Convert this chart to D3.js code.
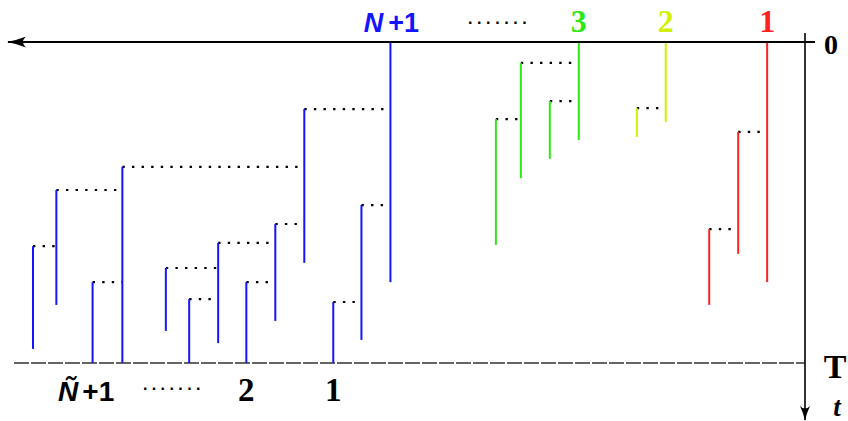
<!DOCTYPE html>
<html>
<head>
<meta charset="utf-8">
<script src="https://cdn.jsdelivr.net/npm/d3@7"></script>
<style>
  body { margin: 0; background: #fff; }
  svg { display: block; }
</style>
</head>
<body>
<div class="tree-chart"></div>
<script>

// Families (lineages) drawn from the top axis, right to left
var familyNames = ["1", "2", "3", "N+1"];
var familyColors = ["#ff2020", "#d4f000", "#2ee812", "#1414ff"];

// Each branch: position, birth time, death time, parent index (-1 = root)
var redX      = [95.3, 91.7, 88.1];
var redBirth  = [0, 0.280, 0.583];
var redDeath  = [0.748, 0.660, 0.819];
var redParent = [-1, 0, 1];

var yellowX      = [82.7, 79.1];
var yellowBirth  = [0, 0.206];
var yellowDeath  = [0.249, 0.296];
var yellowParent = [-1, 0];

var greenX      = [71.9, 68.3, 64.7, 61.6];
var greenBirth  = [0, 0.184, 0.065, 0.240];
var greenDeath  = [0.305, 0.364, 0.424, 0.632];
var greenParent = [-1, 0, 0, 2];

var blueX      = [48.5, 44.9, 41.4, 37.8, 34.2, 30.6, 27.1, 23.5, 20.6, 15.2, 11.5, 7.0, 4.1];
var blueBirth  = [0, 0.508, 0.810, 0.209, 0.567, 0.748, 0.626, 0.801, 0.704, 0.389, 0.748, 0.461, 0.636];
var blueDeath  = [0.748, 0.928, 1, 0.688, 0.869, 1, 0.938, 1, 0.900, 1, 1, 0.819, 0.956];
var blueParent = [-1, 0, 1, 0, 3, 4, 4, 6, 6, 3, 9, 9, 11];

// Labels of survivors at time T
var bottomLabels = ["Ñ+1", ".......", "2", "1"];
var bottomLabelX = [10.7, 21.6, 30.6, 41.4];

var w = 848;
var h = 421;

var x = d3.scaleLinear().domain([0, 100]).range([0, 805]);
var t = d3.scaleLinear().domain([0, 1]).range([42, 363]);

var svg = d3.select(".tree-chart").append("svg")
  .attr("width", w)
  .attr("height", h);

var defs = svg.append("defs");

// Arrow heads for the two axes
defs.append("marker")
  .attr("id", "arrow")
  .attr("viewBox", "0 0 19 11")
  .attr("refX", 18)
  .attr("refY", 5.5)
  .attr("markerWidth", 19)
  .attr("markerHeight", 11)
  .attr("markerUnits", "userSpaceOnUse")
  .attr("orient", "auto")
  .append("path")
  .attr("d", "M0,0 Q10,4 19,5.5 Q10,7 0,11 Q6,5.5 0,0 Z")
  .attr("fill", "#000");

defs.append("marker")
  .attr("id", "arrowSmall")
  .attr("viewBox", "0 0 15 10")
  .attr("refX", 14)
  .attr("refY", 5)
  .attr("markerWidth", 15)
  .attr("markerHeight", 10)
  .attr("markerUnits", "userSpaceOnUse")
  .attr("orient", "auto")
  .append("path")
  .attr("d", "M0,0 Q8,3.8 15,5 Q8,6.2 0,10 Q5,5 0,0 Z")
  .attr("fill", "#000");

function Family(xs, births, deaths, parents, color) {
  var data = xs.map(function(d, i) {
    return { x: d, t0: births[i], t1: deaths[i], p: parents[i] };
  });

  var g = svg.append("g");

  // Dotted link from a branch to its parent at birth time
  g.selectAll("line.link")
    .data(data.filter(function(d) { return d.p >= 0; }))
    .enter()
    .append("line")
    .attr("class", "link")
    .attr("x1", function(d) { return x(d.x); })
    .attr("x2", function(d) { return x(xs[d.p]); })
    .attr("y1", function(d) { return t(d.t0); })
    .attr("y2", function(d) { return t(d.t0); })
    .attr("stroke", "#000")
    .attr("stroke-width", 2.2)
    .attr("stroke-dasharray", "2.4,7.2");

  // Life span of each branch
  g.selectAll("line.branch")
    .data(data)
    .enter()
    .append("line")
    .attr("class", "branch")
    .attr("x1", function(d) { return x(d.x); })
    .attr("x2", function(d) { return x(d.x); })
    .attr("y1", function(d) { return t(d.t0); })
    .attr("y2", function(d) { return t(d.t1); })
    .attr("stroke", color)
    .attr("stroke-width", 2);

  return data[0].x;
}

// Dashed line at time T
svg.append("line")
  .attr("x1", 14).attr("x2", x(100))
  .attr("y1", t(1)).attr("y2", t(1))
  .attr("stroke", "#333")
  .attr("stroke-width", 1.6)
  .attr("stroke-dasharray", "15,2");

var rootX = [
  Family(redX, redBirth, redDeath, redParent, familyColors[0]),
  Family(yellowX, yellowBirth, yellowDeath, yellowParent, familyColors[1]),
  Family(greenX, greenBirth, greenDeath, greenParent, familyColors[2]),
  Family(blueX, blueBirth, blueDeath, blueParent, familyColors[3])
];

// Top axis (time 0), pointing left
svg.append("line")
  .attr("x1", 815).attr("x2", 8)
  .attr("y1", t(0)).attr("y2", t(0))
  .attr("stroke", "#000")
  .attr("stroke-width", 2)
  .attr("marker-end", "url(#arrow)");

// Time axis pointing down
svg.append("line")
  .attr("x1", x(100)).attr("x2", x(100))
  .attr("y1", 33).attr("y2", 420)
  .attr("stroke", "#000")
  .attr("stroke-width", 1.6)
  .attr("marker-end", "url(#arrowSmall)");

// Family labels above the top axis
var labels = svg.append("g");

rootX.forEach(function(rx, i) {
  if (familyNames[i] === "N+1") {
    var txt = labels.append("text")
      .attr("x", x(rx) + 1)
      .attr("y", 32)
      .attr("text-anchor", "middle")
      .attr("fill", familyColors[i])
      .style("font-family", "Liberation Sans, Arial, sans-serif")
      .style("font-weight", "bold")
      .style("font-size", "27px");
    txt.append("tspan").style("font-style", "italic").text("N");
    txt.append("tspan").attr("dx", 5).text("+1");
  } else {
    labels.append("text")
      .attr("x", x(rx))
      .attr("y", 32)
      .attr("text-anchor", "middle")
      .attr("fill", familyColors[i])
      .style("font-family", "Liberation Serif, serif")
      .style("font-weight", "bold")
      .style("font-size", "32px")
      .text(familyNames[i]);
  }
});

labels.append("text")
  .attr("x", 468)
  .attr("y", 24)
  .style("font-family", "Liberation Sans, sans-serif")
  .style("font-weight", "bold")
  .style("font-size", "16px")
  .style("letter-spacing", "4.6px")
  .text(".......");

// Survivor labels below the dashed line
bottomLabels.forEach(function(lab, i) {
  var el = labels.append("text")
    .attr("x", x(bottomLabelX[i]))
    .attr("y", 401)
    .attr("text-anchor", "middle")
    .attr("fill", "#000");
  if (lab === "Ñ+1") {
    el.style("font-family", "Liberation Sans, Arial, sans-serif")
      .style("font-weight", "bold")
      .style("font-size", "28px");
    el.append("tspan").style("font-style", "italic").text("Ñ");
    el.append("tspan").attr("dx", 4).text("+1");
  } else if (lab === ".......") {
    el.attr("y", 390)
      .style("font-family", "Liberation Sans, sans-serif")
      .style("font-weight", "bold")
      .style("font-size", "16px")
      .style("letter-spacing", "4.4px")
      .text(lab);
  } else {
    el.style("font-family", "Liberation Serif, serif")
      .style("font-weight", "bold")
      .style("font-size", "33px")
      .text(lab);
  }
});

// Axis labels on the right
labels.append("text")
  .attr("x", 831).attr("y", 54)
  .attr("text-anchor", "middle")
  .style("font-family", "Liberation Serif, serif")
  .style("font-weight", "bold")
  .style("font-size", "28px")
  .text("0");

labels.append("text")
  .attr("x", 835).attr("y", 378)
  .attr("text-anchor", "middle")
  .style("font-family", "Liberation Serif, serif")
  .style("font-weight", "bold")
  .style("font-size", "34px")
  .text("T");

labels.append("text")
  .attr("x", 837).attr("y", 416)
  .attr("text-anchor", "middle")
  .style("font-family", "Liberation Serif, serif")
  .style("font-weight", "bold")
  .style("font-style", "italic")
  .style("font-size", "27px")
  .text("t");

</script>
</body>
</html>
